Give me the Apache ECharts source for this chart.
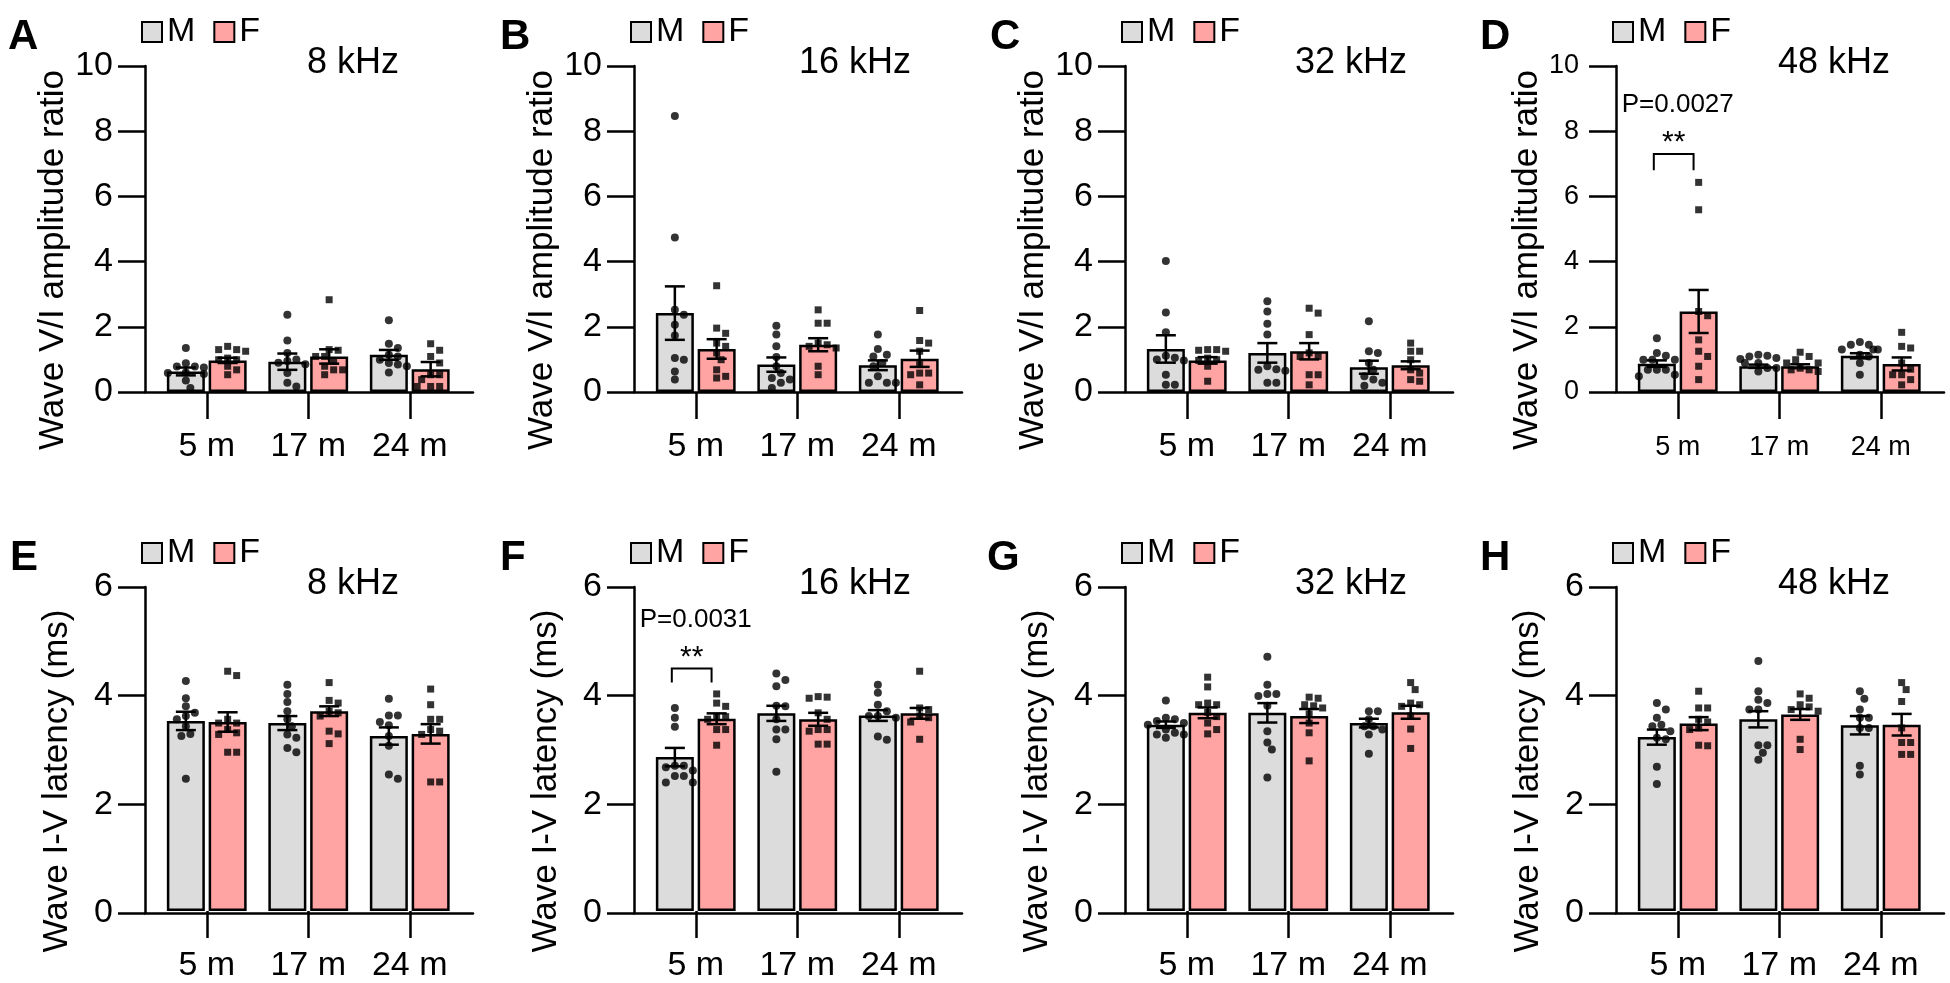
<!DOCTYPE html>
<html><head><meta charset="utf-8">
<script src="https://cdn.jsdelivr.net/npm/echarts@6/dist/echarts.min.js"></script>
<style>html,body{margin:0;padding:0;background:#fff}#c{width:1950px;height:983px}</style>
</head><body><div id="c"></div>
<script>
// ---------------- DATA ----------------
const categories = ['5 m', '17 m', '24 m'];
const panelLetters = ['A', 'B', 'C', 'D', 'E', 'F', 'G', 'H'];
const frequencies = ['8 kHz', '16 kHz', '32 kHz', '48 kHz'];
const ampAxisName = 'Wave V/I amplitude ratio';
const latAxisName = 'Wave I-V latency (ms)';
const ampAxisMax = 10, latAxisMax = 6, tickStep = 2;

// Panel A: amplitude ratio, 8 kHz
const A_meanM = [0.63, 0.93, 1.14], A_semM = [0.12, 0.25, 0.15];
const A_meanF = [0.97, 1.09, 0.70], A_semF = [0.08, 0.22, 0.22];
const A_ptsM = [[1.35, 0.88, 0.78, 0.78, 0.75, 0.6, 0.58, 0.55, 0.35, 0.12],
                [2.37, 1.58, 1.2, 1.0, 0.95, 0.9, 0.85, 0.58, 0.28, 0.17],
                [2.2, 1.48, 1.35, 1.14, 1.09, 0.99, 0.84, 0.79, 0.89, 0.6]];
const A_ptsF = [[1.4, 1.3, 1.3, 1.25, 1.04, 0.99, 0.99, 0.79, 0.68, 0.53],
                [2.83, 1.3, 1.28, 1.09, 1.09, 0.94, 0.79, 0.68, 0.68, 0.53],
                [1.48, 1.28, 1.09, 0.89, 0.53, 0.53, 0.38, 0.17, 0.17, 0.17]];
// Panel B: amplitude ratio, 16 kHz
const B_meanM = [2.42, 0.84, 0.82], B_semM = [0.82, 0.22, 0.15];
const B_meanF = [1.32, 1.45, 1.02], B_semF = [0.3, 0.2, 0.25];
const B_ptsM = [[8.47, 4.74, 2.52, 2.37, 2.06, 1.73, 1.04, 0.99, 0.63, 0.38],
                [2.03, 1.76, 1.4, 1.07, 0.79, 0.58, 0.43, 0.38, 0.28, 0.12],
                [1.76, 1.32, 1.14, 1.09, 0.89, 0.79, 0.48, 0.28, 0.28, 0.28]];
const B_ptsF = [[3.26, 1.96, 1.8, 1.5, 1.4, 1.2, 0.99, 0.68, 0.48, 0.43],
                [2.52, 2.11, 2.11, 1.5, 1.45, 1.4, 1.35, 0.79, 0.53],
                [2.5, 1.58, 1.5, 1.25, 0.84, 0.58, 0.58, 0.53, 0.22]];
// Panel C: amplitude ratio, 32 kHz
const C_meanM = [1.32, 1.2, 0.76], C_semM = [0.42, 0.3, 0.2];
const C_meanF = [0.97, 1.25, 0.82], C_semF = [0.1, 0.25, 0.12];
const C_ptsM = [[4.02, 2.44, 1.83, 1.11, 1.05, 1.0, 0.97, 0.53, 0.22, 0.22],
                [2.78, 2.47, 2.09, 1.76, 0.79, 0.7, 0.68, 0.65, 0.28, 0.28],
                [2.17, 1.25, 1.2, 0.89, 0.68, 0.48, 0.38, 0.28, 0.19]];
const C_ptsF = [[1.3, 1.3, 1.28, 1.25, 1.04, 0.99, 0.97, 0.79, 0.33],
                [2.57, 2.42, 1.76, 1.2, 1.09, 1.09, 0.53, 0.53, 0.22],
                [1.5, 1.25, 1.25, 0.99, 0.68, 0.58, 0.38, 0.33]];
// Panel D: amplitude ratio, 48 kHz
const D_meanM = [0.87, 0.79, 1.11], D_semM = [0.1, 0.05, 0.08];
const D_meanF = [2.47, 0.79, 0.86], D_semF = [0.66, 0.06, 0.2];
const D_ptsM = [[1.65, 1.2, 1.11, 0.99, 0.99, 0.99, 0.68, 0.68, 0.68, 0.53, 0.48],
                [1.14, 1.11, 1.09, 1.04, 1.01, 0.89, 0.89, 0.74, 0.74, 0.63],
                [1.53, 1.45, 1.45, 1.3, 1.3, 1.3, 1.14, 1.09, 0.89, 0.53]];
const D_ptsF = [[6.43, 5.59, 2.47, 2.34, 1.6, 1.25, 1.09, 0.79, 0.38],
                [1.22, 1.09, 0.99, 0.89, 0.89, 0.73, 0.68, 0.68, 0.63],
                [1.83, 1.4, 1.35, 0.89, 0.7, 0.53, 0.53, 0.38, 0.22]];
// Panel E: latency, 8 kHz
const E_meanM = [3.52, 3.48, 3.24], E_semM = [0.17, 0.13, 0.16];
const E_meanF = [3.5, 3.7, 3.28], E_semF = [0.18, 0.09, 0.18];
const E_ptsM = [[4.26, 3.94, 3.79, 3.67, 3.61, 3.55, 3.42, 3.28, 3.24, 2.45],
                [4.19, 4.02, 3.87, 3.7, 3.55, 3.42, 3.27, 3.21, 3.02, 2.94],
                [3.93, 3.62, 3.62, 3.44, 3.5, 3.24, 3.06, 2.53, 2.45]];
const E_ptsF = [[4.44, 4.36, 3.55, 3.48, 3.48, 3.36, 3.3, 3.27, 2.94, 2.94],
                [4.23, 3.9, 3.85, 3.7, 3.67, 3.61, 3.33, 3.28, 3.1],
                [4.11, 3.82, 3.55, 3.55, 3.36, 3.33, 3.27, 2.39, 2.39]];
// Panel F: latency, 16 kHz
const F_meanM = [2.85, 3.66, 3.62], F_semM = [0.17, 0.14, 0.1];
const F_meanF = [3.56, 3.55, 3.66], F_semF = [0.1, 0.12, 0.1];
const F_ptsM = [[3.76, 3.58, 3.41, 2.69, 2.66, 2.69, 2.6, 2.5, 2.5, 2.38, 2.38],
                [4.4, 4.28, 4.16, 3.79, 3.8, 3.55, 3.36, 3.36, 3.18, 2.58],
                [4.19, 4.04, 3.82, 3.7, 3.61, 3.61, 3.58, 3.23, 3.17]];
const F_ptsF = [[4.02, 3.85, 3.79, 3.6, 3.6, 3.55, 3.36, 3.36, 3.07],
                [3.97, 3.96, 3.94, 3.67, 3.55, 3.36, 3.33, 3.36, 3.09, 3.09],
                [4.44, 3.76, 3.73, 3.61, 3.58, 3.5, 3.18]];
// Panel G: latency, 32 kHz
const G_meanM = [3.45, 3.67, 3.48], G_semM = [0.06, 0.18, 0.08];
const G_meanF = [3.67, 3.61, 3.68], G_semF = [0.1, 0.13, 0.12];
const G_ptsM = [[3.9, 3.58, 3.55, 3.52, 3.48, 3.45, 3.36, 3.3, 3.27, 3.27, 3.21],
                [4.71, 4.19, 4.02, 3.98, 4.02, 3.8, 3.33, 3.12, 2.99, 2.47],
                [3.7, 3.7, 3.55, 3.42, 3.42, 3.36, 3.27, 2.91]];
const G_ptsF = [[4.33, 4.15, 3.82, 3.82, 3.85, 3.68, 3.6, 3.48, 3.36, 3.28],
                [3.96, 3.94, 3.82, 3.76, 3.8, 3.65, 3.48, 3.3, 2.78],
                [4.23, 4.1, 3.85, 3.82, 3.79, 3.61, 3.37, 3.01]];
// Panel H: latency, 48 kHz
const H_meanM = [3.22, 3.55, 3.44], H_semM = [0.14, 0.15, 0.17];
const H_meanF = [3.47, 3.64, 3.45], H_semF = [0.12, 0.1, 0.2];
const H_ptsM = [[3.85, 3.73, 3.58, 3.45, 3.42, 3.33, 3.21, 3.18, 2.67, 2.35],
                [4.63, 4.07, 3.91, 3.85, 3.73, 3.73, 3.07, 3.07, 2.93, 2.8],
                [4.07, 3.93, 3.73, 3.58, 3.58, 3.39, 3.39, 2.69, 2.53]];
const H_ptsF = [[4.07, 3.76, 3.76, 3.55, 3.5, 3.39, 3.36, 3.06, 3.07],
                [4.02, 3.94, 3.82, 3.78, 3.73, 3.7, 3.18, 2.99],
                [4.23, 4.1, 3.88, 3.39, 3.12, 3.12, 2.9, 2.9]];

// Significance annotations (panel index, category index, bracket level, leg end, P-text level, star level)
const sigPanels = [3, 5];
const sigCategory = [0, 0];
const sigBracketY = [7.3, 4.49];
const sigLegY = [6.8, 4.23];
const sigTextY = [8.8, 5.39];
const sigStarY = [7.64, 4.69];
const sigText = ['P=0.0027', 'P=0.0031'];
const sigStars = ['**', '**'];

// ---------------- LAYOUT / STYLE ----------------
const FONT = '"Liberation Sans", Arial, Helvetica, sans-serif';
const GRAY = '#dcdcdc', PINK = '#ffa3a3', BLACK = '#000';
const colX = [145, 634, 1125, 1616];
const rowY = [66, 587];
const titleDX = [208, 221, 226, 218];
const letterX = [[8, 500, 990, 1480], [10, 500, 987, 1480]];
const letterY = [37, 558];
const PH = 326, FRAME_W = 328, MAIN_OFF = 11, MAIN_W = 304.5;
const BAND = MAIN_W / categories.length;
const BAR_W = 38, BAR_GAP = 0.1;
const SEX_OFF = (BAR_W * (1 + BAR_GAP) / 2) / BAND;
const LW = 2.5, DOT = 8;

const panels = [
  [A_meanM, A_semM, A_meanF, A_semF, A_ptsM, A_ptsF],
  [B_meanM, B_semM, B_meanF, B_semF, B_ptsM, B_ptsF],
  [C_meanM, C_semM, C_meanF, C_semF, C_ptsM, C_ptsF],
  [D_meanM, D_semM, D_meanF, D_semF, D_ptsM, D_ptsF],
  [E_meanM, E_semM, E_meanF, E_semF, E_ptsM, E_ptsF],
  [F_meanM, F_semM, F_meanF, F_semF, F_ptsM, F_ptsF],
  [G_meanM, G_semM, G_meanF, G_semF, G_ptsM, G_ptsF],
  [H_meanM, H_semM, H_meanF, H_semF, H_ptsM, H_ptsF]
];

// beeswarm-like horizontal spread (in px) so points of similar value do not overlap
function swarm(values, pxPerUnit) {
  const cands = [0, 4.5, -4.5, 9, -9, 13.5, -13.5, 18, -18];
  const order = values.map((v, i) => i).sort((a, b) => values[b] - values[a]);
  const placed = [], out = new Array(values.length).fill(0);
  for (const i of order) {
    const y = values[i] * pxPerUnit;
    let best = null;
    for (const c of cands) {
      if (placed.every(p => Math.hypot(p.x - c, p.y - y) >= DOT)) { best = c; break; }
    }
    if (best === null) best = cands[placed.length % cands.length];
    placed.push({ x: best, y }); out[i] = best;
  }
  return out;
}

function errRender(params, api) {
  const x = api.value(0), m = api.value(1), s = api.value(2);
  const t = api.coord([x, m + s]), b = api.coord([x, m - s]);
  const hw = 10, st = { stroke: BLACK, lineWidth: LW };
  return { type: 'group', children: [
    { type: 'line', shape: { x1: t[0], y1: t[1], x2: b[0], y2: b[1] }, style: st },
    { type: 'line', shape: { x1: t[0] - hw, y1: t[1], x2: t[0] + hw, y2: t[1] }, style: st },
    { type: 'line', shape: { x1: b[0] - hw, y1: b[1], x2: b[0] + hw, y2: b[1] }, style: st }
  ]};
}

const grid = [], xAxis = [], yAxis = [], series = [], legend = [], graphic = [];

panels.forEach((P, p) => {
  const [meanM, semM, meanF, semF, ptsM, ptsF] = P;
  const col = p % 4, row = Math.floor(p / 4);
  const ax = colX[col], top = rowY[row];
  const ymax = row === 0 ? ampAxisMax : latAxisMax;
  const small = p === 3;
  const gF = grid.length; grid.push({ left: ax, top: top, width: FRAME_W, height: PH });
  const gM = grid.length; grid.push({ left: ax + MAIN_OFF, top: top, width: MAIN_W, height: PH });
  xAxis.push({ type: 'value', gridIndex: gF, min: 0, max: 1,
    axisLine: { show: true, onZero: false, lineStyle: { color: BLACK, width: LW } },
    axisTick: { show: false }, axisLabel: { show: false }, splitLine: { show: false } });
  const xC = xAxis.length;
  xAxis.push({ type: 'category', gridIndex: gM, data: categories,
    axisLine: { show: false },
    axisTick: { show: true, alignWithLabel: true, length: 27, lineStyle: { color: BLACK, width: LW } },
    axisLabel: { color: BLACK, fontSize: small ? 27 : 34, fontFamily: FONT, margin: small ? 42 : 38 },
    splitLine: { show: false } });
  const xV = xAxis.length;
  xAxis.push({ type: 'value', gridIndex: gM, min: -0.5, max: 2.5, show: false });
  yAxis.push({ type: 'value', gridIndex: gF, min: 0, max: ymax, interval: tickStep,
    axisLine: { show: true, lineStyle: { color: BLACK, width: LW } },
    axisTick: { show: true, length: 27, lineStyle: { color: BLACK, width: LW } },
    axisLabel: { color: BLACK, fontSize: small ? 27 : 34, fontFamily: FONT, margin: small ? 37 : 32 },
    splitLine: { show: false },
    name: row === 0 ? ampAxisName : latAxisName, nameLocation: 'middle', nameGap: 70,
    nameTextStyle: { color: BLACK, fontSize: 35, fontFamily: FONT, padding: [0, 62, 0, 0] } });
  const yM = yAxis.length;
  yAxis.push({ type: 'value', gridIndex: gM, min: 0, max: ymax, show: false });

  series.push({ type: 'bar', name: 'M', xAxisIndex: xC, yAxisIndex: yM, data: meanM,
    barWidth: BAR_W, barGap: (BAR_GAP * 100) + '%', silent: true, z: 2,
    itemStyle: { color: GRAY, borderColor: BLACK, borderWidth: LW } });
  series.push({ type: 'bar', name: 'F', xAxisIndex: xC, yAxisIndex: yM, data: meanF,
    barWidth: BAR_W, barGap: (BAR_GAP * 100) + '%', silent: true, z: 2,
    itemStyle: { color: PINK, borderColor: BLACK, borderWidth: LW } });

  const pxPerUnit = PH / ymax;
  const mPts = [], fPts = [];
  ptsM.forEach((vals, ci) => { const o = swarm(vals, pxPerUnit); vals.forEach((v, k) => mPts.push([ci - SEX_OFF + o[k] / BAND, v])); });
  ptsF.forEach((vals, ci) => { const o = swarm(vals, pxPerUnit); vals.forEach((v, k) => fPts.push([ci + SEX_OFF + o[k] / BAND, v])); });
  series.push({ type: 'scatter', name: 'M points', xAxisIndex: xV, yAxisIndex: yM, data: mPts,
    symbol: 'circle', symbolSize: DOT, itemStyle: { color: BLACK }, silent: true, z: 4 });
  series.push({ type: 'scatter', name: 'F points', xAxisIndex: xV, yAxisIndex: yM, data: fPts,
    symbol: 'rect', symbolSize: DOT - 1, itemStyle: { color: BLACK }, silent: true, z: 4 });

  series.push({ type: 'custom', name: 'M sem', xAxisIndex: xV, yAxisIndex: yM, silent: true, z: 5,
    data: meanM.map((m, i) => [i - SEX_OFF, m, semM[i]]), renderItem: errRender, encode: { x: 0, y: 1 } });
  series.push({ type: 'custom', name: 'F sem', xAxisIndex: xV, yAxisIndex: yM, silent: true, z: 5,
    data: meanF.map((m, i) => [i + SEX_OFF, m, semF[i]]), renderItem: errRender, encode: { x: 0, y: 1 } });

  const si = sigPanels.indexOf(p);
  if (si >= 0) {
    const c = sigCategory[si];
    series.push({ type: 'custom', name: 'sig', xAxisIndex: xV, yAxisIndex: yM, silent: true, z: 6,
      data: [[c, sigBracketY[si], sigLegY[si], sigTextY[si], sigStarY[si]]], encode: { x: 0, y: 1 },
      renderItem: (params, api) => {
        const cx = api.value(0);
        const a = api.coord([cx - SEX_OFF - 0.03, api.value(2)]);
        const b = api.coord([cx - SEX_OFF - 0.03, api.value(1)]);
        const d = api.coord([cx + SEX_OFF - 0.05, api.value(1)]);
        const e = api.coord([cx + SEX_OFF - 0.05, api.value(2)]);
        const pt = api.coord([cx + 0.0, api.value(3)]);
        const stp = api.coord([cx - 0.04, api.value(4)]);
        return { type: 'group', children: [
          { type: 'polyline', shape: { points: [a, b, d, e] }, style: { stroke: BLACK, lineWidth: 2, fill: null } },
          { type: 'text', x: pt[0], y: pt[1], style: { text: sigText[si], fill: BLACK, font: '26px ' + FONT, align: 'center', verticalAlign: 'middle' } },
          { type: 'text', x: stp[0], y: stp[1], style: { text: sigStars[si], fill: BLACK, font: '30px ' + FONT, align: 'center', verticalAlign: 'middle' } }
        ]};
      } });
  }

  legend.push({ left: ax - 9, top: top - 56, orient: 'horizontal', itemWidth: 20, itemHeight: 20, itemGap: 18,
    selectedMode: false, textStyle: { color: BLACK, fontSize: 34, fontFamily: FONT },
    data: [
      { name: 'M', icon: 'rect', itemStyle: { color: GRAY, borderColor: BLACK, borderWidth: 2 } },
      { name: 'F', icon: 'rect', itemStyle: { color: PINK, borderColor: BLACK, borderWidth: 2 } }
    ] });

  graphic.push({ type: 'text', x: letterX[row][col], y: letterY[row], silent: true,
    style: { text: panelLetters[p], fill: BLACK, font: 'bold 42px ' + FONT, align: 'left', verticalAlign: 'middle' } });
  graphic.push({ type: 'text', x: ax + titleDX[col], y: top - 3, silent: true,
    style: { text: frequencies[col], fill: BLACK, font: '36px ' + FONT, align: 'center', verticalAlign: 'middle' } });
});

const chart = echarts.init(document.getElementById('c'), null, { renderer: 'canvas' });
chart.setOption({ animation: false, backgroundColor: '#fff', textStyle: { fontFamily: FONT },
  grid, xAxis, yAxis, series, legend, graphic });
</script></body></html>
